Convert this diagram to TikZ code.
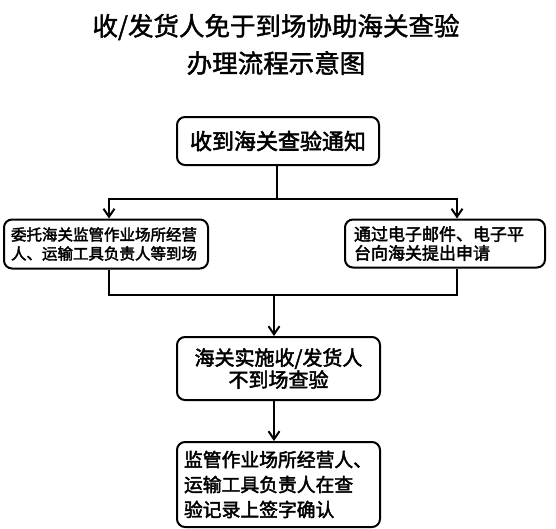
\documentclass[tikz,border=0pt]{standalone}
\usepackage{fontspec}
\setmainfont{Noto Sans CJK SC}
\newfontfamily\hfont[FakeBold=1.6]{Noto Sans CJK SC}
\newfontfamily\bxfont[FakeBold=2.4]{Noto Sans CJK SC}
\usetikzlibrary{arrows.meta}
\begin{document}
\begin{tikzpicture}[x=1pt,y=-1pt,
  box/.style={draw, line width=2pt, rounded corners=8pt, inner sep=0pt},
  conn/.style={line width=2pt},
  arr/.style={conn,-{Straight Barb[length=8pt,width=11pt,line width=2pt]}},
  ttl/.style={font=\hfont\fontsize{25.5}{30}\selectfont}]
\useasboundingbox (0,0) rectangle (556,528);
\node[ttl] (t1) at (276,27) {收/发货人免于到场协助海关查验};
\node[ttl] (t2) at (276,63) {办理流程示意图};

\node[box, minimum width=202pt, minimum height=48pt,
  font=\bxfont\fontsize{22}{26}\selectfont] (b1) at (278,141) {收到海关查验通知};
\node[box, minimum width=204pt, minimum height=49pt, text width=190pt, align=left,
  font=\bxfont\fontsize{15.5}{19}\selectfont] (b2) at (106,244)
  {委托海关监管作业场所经营\\人、运输工具负责人等到场};
\node[box, minimum width=200pt, minimum height=48pt, text width=182pt, align=left,
  font=\bxfont\fontsize{17}{19}\selectfont] (b3) at (445,243.5)
  {通过电子邮件、电子平\\台向海关提出申请};
\node[box, minimum width=203pt, minimum height=63pt, align=center,
  font=\bxfont\fontsize{20}{22}\selectfont] (b4) at (278.5,368.5)
  {海关实施收/发货人\\不到场查验};
\node[box, minimum width=203pt, minimum height=85pt, text width=189pt, align=left,
  font=\bxfont\fontsize{18.8}{25}\selectfont] (b5) at (278.5,484.5)
  {监管作业场所经营人、\\运输工具负责人在查\\验记录上签字确认};

\coordinate (s1) at (277,199);
\coordinate (s2) at (274,295);
\draw[conn] (b1.south -| s1) -- (s1);
\draw[arr] (s1) -| ([xshift=3pt]b2.north);
\draw[arr] (s1) -| ([xshift=12pt]b3.north);
\draw[conn] ([xshift=3pt]b2.south) |- (s2);
\draw[conn] ([xshift=12pt]b3.south) |- (s2);
\draw[arr] (s2) -- (b4.north -| s2);
\draw[arr] (b4.south -| s2) -- (b5.north -| s2);
\end{tikzpicture}
\end{document}
